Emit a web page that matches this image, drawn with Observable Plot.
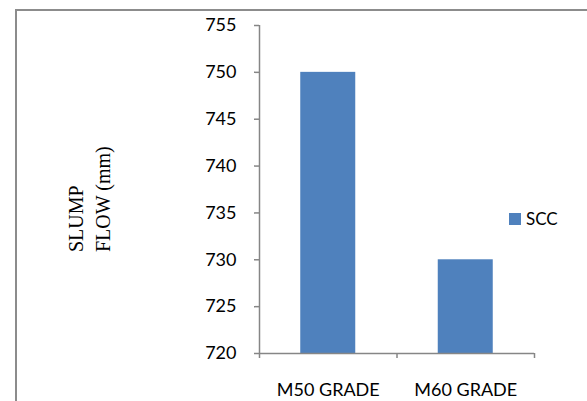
<!DOCTYPE html>
<html>
<head>
<meta charset="utf-8">
<script src="https://cdn.jsdelivr.net/npm/d3@7"></script>
<script src="https://cdn.jsdelivr.net/npm/@observablehq/plot@0.6"></script>
<style>
  html, body { margin: 0; padding: 0; background: #fff; }
  #wrap { position: relative; width: 587px; height: 401px; overflow: hidden; background: #fff; }
  #frame { position: absolute; left: 15px; top: 9px; width: 700px; height: 600px;
           border-left: 2px solid #8c8c8c; border-top: 2px solid #8c8c8c; box-sizing: border-box; }
  #chart { position: absolute; left: 0; top: 0; }
  #ylabel { position: absolute; left: 63px; top: 252px; transform-origin: left top; transform: rotate(-90deg);
            font-family: "Liberation Serif", "Times New Roman", serif; font-size: 20px; line-height: 27px;
            white-space: pre; color: #000; }
  #legend { position: absolute; left: 509px; top: 207px; font-family: Lato, sans-serif; font-size: 17px;
            color: #000; display: flex; align-items: center; line-height: 24px; }
  #legend .sw { width: 12px; height: 12px; margin-right: 5px; }
</style>
</head>
<body>
<div id="wrap">
  <div id="frame"></div>
  <div id="chart"></div>
  <div id="ylabel"></div>
  <div id="legend"></div>
</div>
<script>
const categories = ["M50 GRADE", "M60 GRADE"];
const sccValues = [750, 730];
const yTicks = [720, 725, 730, 735, 740, 745, 750, 755];
const seriesName = "SCC";
const yLabelLines = ["SLUMP", "FLOW (mm)"];

const barColor = "#4F81BD";
const axisColor = "#868686";

const data = categories.map((c, i) => ({category: c, value: sccValues[i], index: i}));

const chart = Plot.plot({
  width: 587,
  height: 401,
  marginLeft: 259,
  marginRight: 53,
  marginTop: 25,
  marginBottom: 48,
  style: {fontFamily: "Lato, sans-serif", fontSize: "18px", background: "transparent", color: "#000"},
  x: {domain: [0, categories.length], axis: null, label: null},
  y: {domain: [yTicks[0], yTicks[yTicks.length - 1]], axis: null, label: null},
  marks: [
    Plot.rect(data, {x1: d => d.index + 0.3, x2: d => d.index + 0.7, y1: yTicks[0], y2: "value", fill: barColor}),
    Plot.ruleX([0], {stroke: axisColor, strokeWidth: 1.5}),
    Plot.ruleY([yTicks[0]], {stroke: axisColor, strokeWidth: 1.5}),
    Plot.axisY({ticks: yTicks, tickSize: 5, tickPadding: 18, stroke: axisColor, strokeWidth: 1.5, fill: "#000", label: null, fontSize: 18}),
    Plot.axisX({ticks: d3.range(categories.length + 1), tickSize: 5, tickFormat: () => "", stroke: axisColor, strokeWidth: 1.5, label: null}),
    Plot.axisX({ticks: categories.map((c, i) => i + 0.5), tickSize: 0, tickPadding: 30,
                tickFormat: t => categories[Math.floor(t)], fill: "#000", label: null, fontSize: 18})
  ]
});
document.getElementById("chart").appendChild(chart);

document.getElementById("ylabel").textContent = yLabelLines.join("\n");
const lg = document.getElementById("legend");
const sw = document.createElement("span");
sw.className = "sw";
sw.style.background = barColor;
lg.appendChild(sw);
const tx = document.createElement("span");
tx.textContent = seriesName;
lg.appendChild(tx);
</script>
</body>
</html>
